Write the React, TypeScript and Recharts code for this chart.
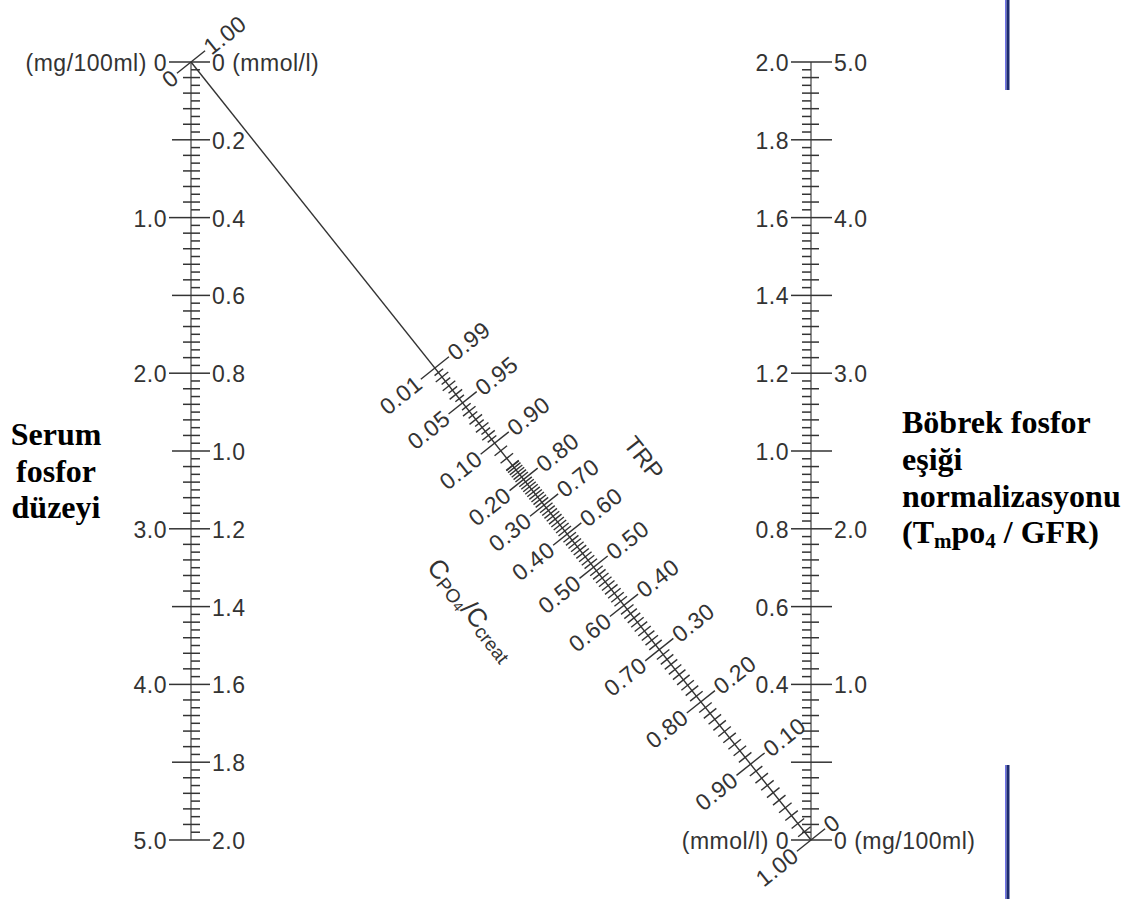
import React from 'react';
import { ScatterChart, Scatter, XAxis, YAxis, ReferenceLine } from 'recharts';

// chart is 1132 x 899, plot box spans left scale (x=191) to right scale (x=811)
const W = 1132;
const H = 899;
const MARGIN = { top: 62, left: 191, right: W - 811, bottom: H - 840 };
const PLOT_W = W - MARGIN.left - MARGIN.right;
const PLOT_H = H - MARGIN.top - MARGIN.bottom;

// on this nomogram 5.0 mg/100ml sits opposite 2.0 mmol/l
const MG_TO_MMOL = 0.4;

// left scale: serum phosphate
const leftMgMajor = [0, 1, 2, 3, 4, 5];
const leftMgLabels = ['(mg/100ml) 0', '1.0', '2.0', '3.0', '4.0', '5.0'];
const leftMmolMajor = [0, 0.2, 0.4, 0.6, 0.8, 1.0, 1.2, 1.4, 1.6, 1.8, 2.0];
const leftMmolLabels = ['0 (mmol/l)', '0.2', '0.4', '0.6', '0.8', '1.0', '1.2', '1.4', '1.6', '1.8', '2.0'];

// right scale: TmPO4 / GFR
const rightMmolMajor = [0, 0.2, 0.4, 0.6, 0.8, 1.0, 1.2, 1.4, 1.6, 1.8, 2.0];
const rightMmolLabels = ['(mmol/l) 0', '', '0.4', '0.6', '0.8', '1.0', '1.2', '1.4', '1.6', '1.8', '2.0'];
const rightMgMajor = [0, 1, 2, 3, 4, 5];
const rightMgLabels = ['0 (mg/100ml)', '1.0', '2.0', '3.0', '4.0', '5.0'];

// diagonal scale: TRP on the upper side, CPO4/Ccreat (= 1 - TRP) on the lower side
const trpMajor = [0.99, 0.95, 0.9, 0.8, 0.7, 0.6, 0.5, 0.4, 0.3, 0.2, 0.1, 0];
const trpLabels = ['0.99', '0.95', '0.90', '0.80', '0.70', '0.60', '0.50', '0.40', '0.30', '0.20', '0.10', '0'];
const clearanceLabels = ['0.01', '0.05', '0.10', '0.20', '0.30', '0.40', '0.50', '0.60', '0.70', '0.80', '0.90', '1.00'];

const INK = '#333';
const AXIS = '#8c8c8c';
const FONT = '"Liberation Sans", Arial, sans-serif';
const FS = 23;
const LS = 0.5;

// Walton & Bijvoet: ratio TmP/GFR : Pserum for a given TRP
const K = 1.08;
const trpRatio = (trp: number) => (trp <= 0.86 ? trp : (0.3 * trp) / (1 - 0.8 * trp));
const diagFraction = (trp: number) => 1 / (1 + K * trpRatio(trp));

// unit vectors in pixel space along / across the diagonal
const DLEN = Math.hypot(PLOT_W, PLOT_H);
const NX = PLOT_H / DLEN;
const NY = -PLOT_W / DLEN;
const TEXT_ANGLE = (Math.atan2(NY, NX) * 180) / Math.PI;
const LINE_ANGLE = (Math.atan2(PLOT_H, PLOT_W) * 180) / Math.PI;

type VTickDatum = { x: number; y: number; side: number; len: number; label?: string };
type DTickDatum = { x: number; y: number; up: number; down: number; upLabel?: string; downLabel?: string };

const leftTicks: VTickDatum[] = [];
for (let i = 0; i <= 100; i++) {
  if (i % 10 === 0) continue;
  leftTicks.push({ x: 0, y: i * 0.02, side: 1, len: 9 });
}
leftMmolMajor.forEach((v, i) => leftTicks.push({ x: 0, y: v, side: 1, len: 19, label: leftMmolLabels[i] }));
for (let i = 0; i <= 50; i++) {
  if (i % 10 === 0) continue;
  leftTicks.push({ x: 0, y: (i / 10) * MG_TO_MMOL, side: -1, len: i % 5 === 0 ? 19 : 8 });
}
leftMgMajor.forEach((v, i) => leftTicks.push({ x: 0, y: v * MG_TO_MMOL, side: -1, len: 22, label: leftMgLabels[i] }));

const rightTicks: VTickDatum[] = [];
for (let i = 0; i <= 100; i++) {
  if (i % 10 === 0) continue;
  rightTicks.push({ x: 1, y: 2 - i * 0.02, side: -1, len: 9 });
}
rightMmolMajor.forEach((v, i) => rightTicks.push({ x: 1, y: 2 - v, side: -1, len: 20, label: rightMmolLabels[i] }));
for (let i = 0; i <= 50; i++) {
  if (i % 10 === 0) continue;
  rightTicks.push({ x: 1, y: 2 - (i / 10) * MG_TO_MMOL, side: 1, len: i % 5 === 0 ? 21 : 8 });
}
rightMgMajor.forEach((v, i) => rightTicks.push({ x: 1, y: 2 - v * MG_TO_MMOL, side: 1, len: 21, label: rightMgLabels[i] }));

const diagPoint = (trp: number) => {
  const f = diagFraction(trp);
  return { x: f, y: 2 * f };
};

const labelled = new Set(trpMajor.map((t) => Math.round((1 - t) * 1000)));
const diagTicks: DTickDatum[] = [];
for (let i = 10; i < 1000; i += 5) {
  if (labelled.has(i)) continue;
  if (i > 100 && i % 10 !== 0) continue;
  const c = i / 1000;
  const half = i < 100 && i % 10 !== 0;
  diagTicks.push({ ...diagPoint(1 - c), up: half ? 6 : 8, down: half ? 5 : 8 });
}
trpMajor.forEach((t, i) =>
  diagTicks.push({ ...diagPoint(t), up: 18, down: 18, upLabel: trpLabels[i], downLabel: clearanceLabels[i] })
);
// upper end of the diagonal, at the zero of the serum scale
diagTicks.push({ x: 0, y: 0, up: 18, down: 18, upLabel: '1.00', downLabel: '0' });

const VTick = (props: any) => {
  const { cx, cy, payload } = props;
  const { side, len, label } = payload as VTickDatum;
  const x2 = cx + side * len;
  return (
    <g>
      <line x1={cx} y1={cy} x2={x2} y2={cy} stroke={INK} strokeWidth={1.5} />
      {label ? (
        <text
          x={x2 + side * 2}
          y={cy + 1}
          textAnchor={side < 0 ? 'end' : 'start'}
          dominantBaseline="central"
          fontFamily={FONT}
          fontSize={FS}
          letterSpacing={LS}
          fill={INK}
        >
          {label}
        </text>
      ) : null}
    </g>
  );
};

const DTick = (props: any) => {
  const { cx, cy, payload } = props;
  const { up, down, upLabel, downLabel } = payload as DTickDatum;
  const ux = cx + NX * up;
  const uy = cy + NY * up;
  const lx = cx - NX * down;
  const ly = cy - NY * down;
  const tux = ux + NX * 2;
  const tuy = uy + NY * 2;
  const tlx = lx - NX * 2;
  const tly = ly - NY * 2;
  return (
    <g>
      <line x1={lx} y1={ly} x2={ux} y2={uy} stroke={INK} strokeWidth={1.4} />
      {upLabel ? (
        <text
          x={tux}
          y={tuy}
          transform={`rotate(${TEXT_ANGLE} ${tux} ${tuy})`}
          textAnchor="start"
          dominantBaseline="central"
          fontFamily={FONT}
          fontSize={FS}
          letterSpacing={LS}
          fill={INK}
        >
          {upLabel}
        </text>
      ) : null}
      {downLabel ? (
        <text
          x={tlx}
          y={tly}
          transform={`rotate(${TEXT_ANGLE} ${tlx} ${tly})`}
          textAnchor="end"
          dominantBaseline="central"
          fontFamily={FONT}
          fontSize={FS}
          letterSpacing={LS}
          fill={INK}
        >
          {downLabel}
        </text>
      ) : null}
    </g>
  );
};

const titleFont = '"Liberation Serif", "Times New Roman", serif';

const Annotations = () => (
  <svg width={W} height={H} style={{ position: 'absolute', left: 0, top: 0, pointerEvents: 'none' }}>
    <g fontFamily={titleFont} fontWeight="bold" fontSize={32} fill="#000">
      <text x={56} y={445} textAnchor="middle">Serum</text>
      <text x={56} y={482} textAnchor="middle">fosfor</text>
      <text x={56} y={518} textAnchor="middle">düzeyi</text>
      <text x={902} y={433}>Böbrek fosfor</text>
      <text x={902} y={470}>eşiği</text>
      <text x={902} y={507}>normalizasyonu</text>
      <text x={902} y={543}>
        (T<tspan fontSize={21} dy={5}>m</tspan>
        <tspan dy={-5}>po</tspan>
        <tspan fontSize={21} dy={5}>4</tspan>
        <tspan dy={-5}> / GFR)</tspan>
      </text>
    </g>
    <g fontFamily={FONT} fill={INK}>
      <text x={644} y={458} fontSize={24} textAnchor="middle" dominantBaseline="central"
        transform={`rotate(${LINE_ANGLE} 644 458)`}>
        TRP
      </text>
      <text x={433} y={562} fontSize={26} dominantBaseline="central" transform={`rotate(${LINE_ANGLE} 433 562)`}>
        C<tspan fontSize={19} dy={5}>PO</tspan>
        <tspan fontSize={14} dy={3}>4</tspan>
        <tspan fontSize={26} dy={-8}>/C</tspan>
        <tspan fontSize={19} dy={5}>creat</tspan>
      </text>
    </g>
    <rect x={1005} y={0} width={1.5} height={90} fill="#6f72e6" />
    <rect x={1006.5} y={0} width={3} height={90} fill="#1d2b6e" />
    <rect x={1005} y={765} width={1.5} height={134} fill="#6f72e6" />
    <rect x={1006.5} y={765} width={3} height={134} fill="#1d2b6e" />
  </svg>
);

export default function App() {
  return (
    <div style={{ position: 'absolute', left: 0, top: 0, width: W, height: H, background: '#fff' }}>
      <ScatterChart width={W} height={H} margin={MARGIN}>
        <XAxis type="number" dataKey="x" domain={[0, 1]} hide />
        <YAxis type="number" dataKey="y" domain={[0, 2]} reversed hide />
        <ReferenceLine segment={[{ x: 0, y: 0 }, { x: 0, y: 2 }]} stroke={AXIS} strokeWidth={2} ifOverflow="visible" />
        <ReferenceLine segment={[{ x: 1, y: 0 }, { x: 1, y: 2 }]} stroke={AXIS} strokeWidth={2} ifOverflow="visible" />
        <ReferenceLine segment={[{ x: 0, y: 0 }, { x: 1, y: 2 }]} stroke={INK} strokeWidth={1.4} ifOverflow="visible" />
        <Scatter data={leftTicks} shape={VTick} isAnimationActive={false} />
        <Scatter data={rightTicks} shape={VTick} isAnimationActive={false} />
        <Scatter data={diagTicks} shape={DTick} isAnimationActive={false} />
      </ScatterChart>
      <Annotations />
    </div>
  );
}
